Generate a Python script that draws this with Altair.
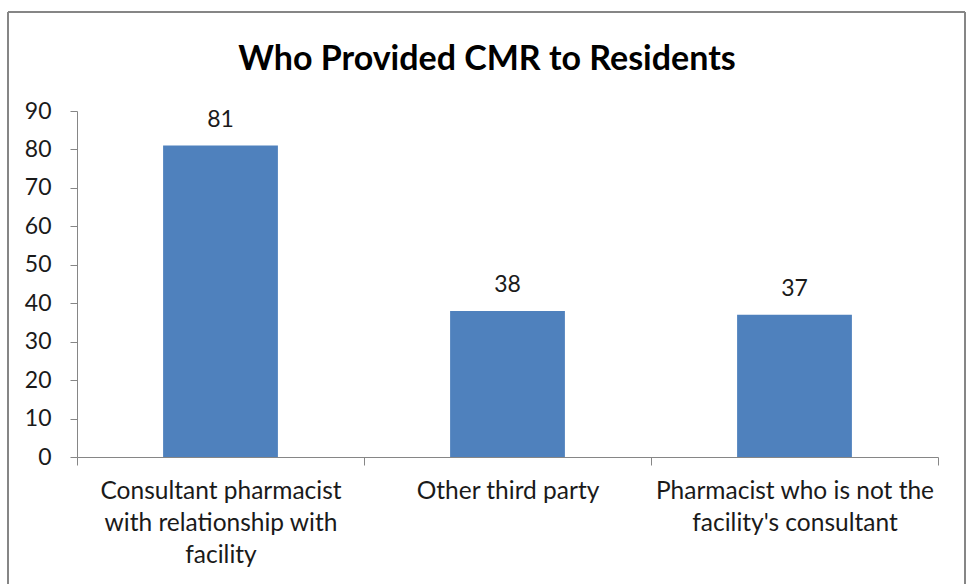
import altair as alt
import pandas as pd

categories = [
    "Consultant pharmacist\nwith relationship with\nfacility",
    "Other third party",
    "Pharmacist who is not the\nfacility's consultant",
]
values = [81, 38, 37]
title_text = "Who Provided CMR to Residents"

df = pd.DataFrame({"category": categories, "value": values})
frame_df = pd.DataFrame({"x": [0]})

FONT = "Lato"
GRAY = "#868686"
TEXT = "#1a1a1a"

x_enc = alt.X(
    "category:N",
    sort=categories,
    scale=alt.Scale(paddingInner=0, paddingOuter=0),
    axis=alt.Axis(
        title=None,
        labelAngle=0,
        labelExpr="split(datum.label, '\\n')",
        labelFont=FONT,
        labelFontSize=24.5,
        labelLineHeight=32,
        labelColor=TEXT,
        labelPadding=14,
        tickBand="extent",
        tickSize=8,
        tickColor=GRAY,
        domainColor=GRAY,
        labelLimit=400,
        grid=False,
    ),
)
y_enc = alt.Y(
    "value:Q",
    scale=alt.Scale(domain=[0, 90], nice=False),
    axis=alt.Axis(
        title=None,
        values=list(range(0, 91, 10)),
        labelOverlap=False,
        grid=False,
        labelFont=FONT,
        labelFontSize=23,
        labelColor=TEXT,
        labelPadding=19,
        tickSize=7,
        tickColor=GRAY,
        domainColor=GRAY,
    ),
)

bars = alt.Chart(df).mark_bar(
    color="#4F81BD", width=alt.RelativeBandSize(0.4)
).encode(x=x_enc, y=y_enc)
labels = alt.Chart(df).mark_text(
    font=FONT, fontSize=23, color=TEXT, baseline="bottom", dy=-14
).encode(x=x_enc, y=y_enc, text="value:Q")

# outer chart border drawn as four rules
b_top = alt.Chart(frame_df).mark_rule(color=GRAY, strokeWidth=2, clip=False).encode(
    x=alt.value(-69), x2=alt.value(888), y=alt.value(-99)
)
b_left = alt.Chart(frame_df).mark_rule(color=GRAY, strokeWidth=2, clip=False).encode(
    x=alt.value(-69), y=alt.value(-99), y2=alt.value(600)
)
b_right = alt.Chart(frame_df).mark_rule(color=GRAY, strokeWidth=2, clip=False).encode(
    x=alt.value(888), y=alt.value(-99), y2=alt.value(600)
)

title = alt.Chart(frame_df).mark_text(
    text=title_text,
    font=FONT,
    fontSize=34,
    fontWeight="bold",
    color="#000000",
    align="center",
    baseline="alphabetic",
    clip=False,
).encode(x=alt.value(410), y=alt.value(-41))

chart = (
    alt.layer(b_top, b_left, b_right, bars, labels, title)
    .properties(
        width=861,
        height=346,
        padding={"left": 77, "top": 111, "right": 33, "bottom": 127},
        autosize=alt.AutoSizeParams(type="none"),
    )
    .configure(background="white")
    .configure_view(stroke=None)
)

chart.save("out.html", embed_options={"renderer": "svg", "actions": False})
